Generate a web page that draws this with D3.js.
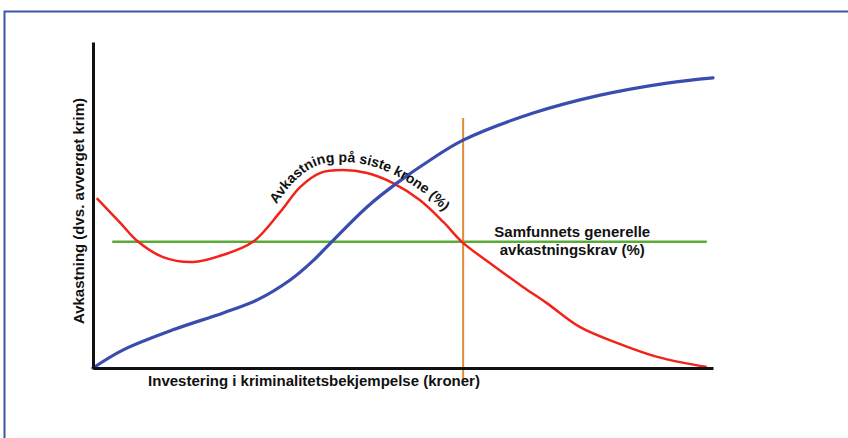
<!DOCTYPE html>
<html>
<head>
<meta charset="utf-8">
<script src="https://cdn.jsdelivr.net/npm/d3@7"></script>
<style>
  body { margin: 0; background: #fff; }
  text { font-family: "Liberation Sans", Arial, sans-serif; font-weight: bold; fill: #111; }
</style>
</head>
<body>
<script>
// investment (0-100) vs return (0-100)
var totalX = [0, 4.8, 12.9, 21, 26.5, 31.8, 35.6, 38.5, 44.2, 49, 54.4, 59.7, 71, 81.8, 92.6, 100];
var totalY = [0, 5.5, 11.7, 16.9, 20.9, 27, 33.1, 38.7, 49.4, 56.7, 63.8, 69.9, 78.2, 83.7, 87.4, 89];

var marginalX = [0.6, 4.4, 7.3, 11.3, 16.1, 21, 25.8, 30.2, 33.4, 36.6, 40.3, 44.2, 48.4, 52.7, 56.5, 59.5, 64, 69.4, 73.2, 78.5, 84.5, 91, 99];
var marginalY = [52.1, 44.5, 38.7, 34, 32.5, 34.7, 38.7, 47.9, 55.5, 59.8, 60.7, 59.8, 56.7, 51.5, 44.8, 38.7, 32.2, 24.8, 19.9, 12.6, 7.7, 3.4, 0.3];

var requiredReturn = 38.7;
var requiredFrom = 3.1, requiredTo = 99;
var optimumX = 59.7;

var labels = {
  yAxis: "Avkastning (dvs. avverget krim)",
  xAxis: "Investering i kriminalitetsbekjempelse (kroner)",
  curve: "Avkastning på siste krone (%)",
  req1: "Samfunnets generelle",
  req2: "avkastningskrav (%)"
};

var W = 848, H = 438;
var svg = d3.select("body").append("svg").attr("width", W).attr("height", H);

// blue frame
svg.append("rect")
  .attr("x", 4.5).attr("y", 11.5)
  .attr("width", 900).attr("height", 500)
  .attr("fill", "none").attr("stroke", "#3b56a6").attr("stroke-width", 2);

var x = d3.scaleLinear().domain([0, 100]).range([93, 713]);
var y = d3.scaleLinear().domain([0, 100]).range([368, 42]);

var total = totalX.map(function(d, i) { return [d, totalY[i]]; });
var marginal = marginalX.map(function(d, i) { return [d, marginalY[i]]; });

var line = d3.line()
  .x(function(d) { return x(d[0]); })
  .y(function(d) { return y(d[1]); })
  .curve(d3.curveCatmullRom);

// green required return
svg.append("line")
  .attr("x1", x(requiredFrom)).attr("x2", x(requiredTo))
  .attr("y1", y(requiredReturn)).attr("y2", y(requiredReturn))
  .attr("stroke", "#5aab35").attr("stroke-width", 2.5);

// orange optimum
svg.append("line")
  .attr("x1", x(optimumX)).attr("x2", x(optimumX))
  .attr("y1", y(76.7)).attr("y2", y(-3.7))
  .attr("stroke", "#e08b36").attr("stroke-width", 2);

var red = svg.append("path")
  .attr("d", line(marginal))
  .attr("fill", "none").attr("stroke", "#f2231a").attr("stroke-width", 2.5);

svg.append("path")
  .attr("d", line(total))
  .attr("fill", "none").attr("stroke", "#3a4cae").attr("stroke-width", 3.2)
  .attr("stroke-linecap", "round");

// axes, no ticks
svg.append("g")
  .attr("transform", "translate(0," + y(0) + ")")
  .call(d3.axisBottom(x).ticks(0).tickSizeOuter(0))
  .call(function(g) { g.select(".domain").attr("stroke", "#111").attr("stroke-width", 3); });

svg.append("g")
  .attr("transform", "translate(" + x(0) + ",0)")
  .call(d3.axisLeft(y).ticks(0).tickSizeOuter(0))
  .call(function(g) { g.select(".domain").attr("stroke", "#111").attr("stroke-width", 3); });

// axis titles
svg.append("text")
  .attr("transform", "translate(84,211) rotate(-90)")
  .attr("text-anchor", "middle")
  .attr("font-size", 15)
  .text(labels.yAxis);

svg.append("text")
  .attr("x", 314).attr("y", 386)
  .attr("text-anchor", "middle")
  .attr("font-size", 15)
  .text(labels.xAxis);

// curved label: red curve pushed out along its normal
var node = red.node(), len = node.getTotalLength(), gap = 8, pts = [];
for (var s = 2; s < len - 2; s += 2) {
  var a = node.getPointAtLength(s - 2), b = node.getPointAtLength(s + 2), p = node.getPointAtLength(s);
  var dx = b.x - a.x, dy = b.y - a.y, n = Math.sqrt(dx * dx + dy * dy);
  var q = [p.x + gap * dy / n, p.y - gap * dx / n];
  if (q[0] > 262 && q[0] < 490) pts.push(q);
}
var start = 0;
for (var i = 1; i < pts.length && pts[i][0] < 277; i++) {
  start += Math.hypot(pts[i][0] - pts[i - 1][0], pts[i][1] - pts[i - 1][1]);
}
svg.append("path")
  .attr("id", "curveLabel")
  .attr("d", d3.line().curve(d3.curveBasis)(pts))
  .attr("fill", "none");

svg.append("text")
  .attr("font-size", 14)
  .append("textPath")
  .attr("href", "#curveLabel")
  .attr("startOffset", start)
  .text(labels.curve);

// required return label
svg.append("text")
  .attr("x", x(77.3)).attr("y", y(requiredReturn) - 5)
  .attr("text-anchor", "middle")
  .attr("font-size", 15)
  .text(labels.req1);
svg.append("text")
  .attr("x", x(77.3)).attr("y", y(requiredReturn) + 13)
  .attr("text-anchor", "middle")
  .attr("font-size", 15)
  .text(labels.req2);
</script>
</body>
</html>
